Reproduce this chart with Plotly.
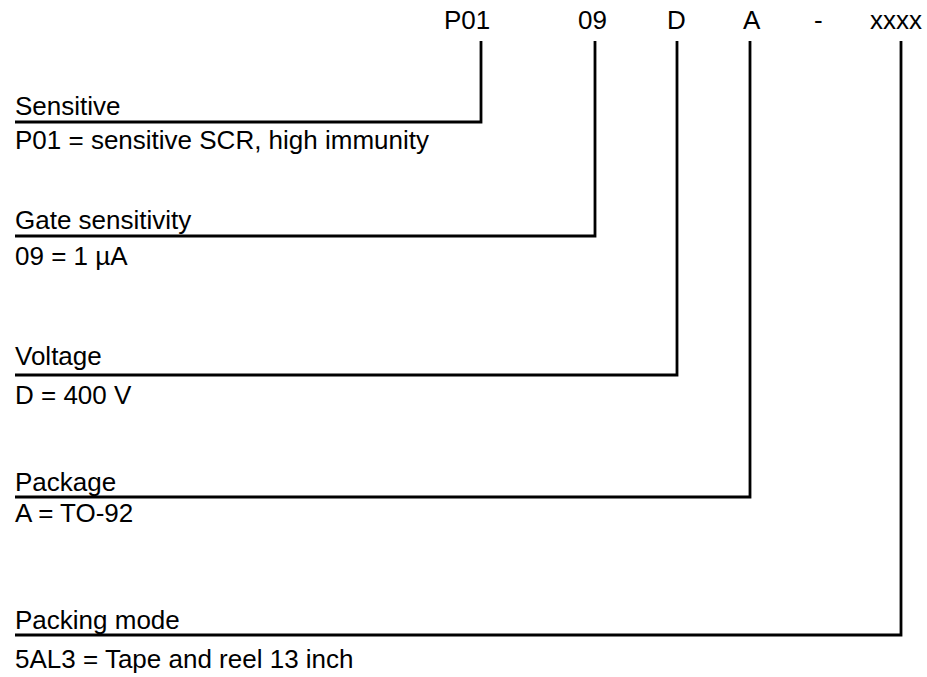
import plotly.graph_objects as go

# ---- content ----
codes = ["P01", "09", "D", "A", "-", "xxxx"]
titles = ["Sensitive", "Gate sensitivity", "Voltage", "Package", "Packing mode"]
descriptions = ["P01 = sensitive SCR, high immunity", "09 = 1 µA", "D = 400 V",
                "A = TO-92", "5AL3 = Tape and reel 13 inch"]

# ---- layout (pixel space) ----
W, H = 927, 677
code_x = [467, 592, 676, 752, 818, 896]
code_y = 20
lead_x = [481, 595, 677, 750, 901]       # vertical leader for each field
line_y = [122, 236, 375, 497, 635]
title_y = [106, 220, 356, 482, 620]
desc_y = [140, 256, 395, 513, 659]
left_x = 15
top_y = 41
FONT = dict(family="Liberation Sans, Arial, sans-serif", size=26, color="black")

fig = go.Figure()
for i in range(len(titles)):
    fig.add_trace(go.Scatter(
        x=[left_x, lead_x[i], lead_x[i]], y=[line_y[i], line_y[i], top_y],
        mode="lines", line=dict(color="black", width=2.8),
        hoverinfo="skip", showlegend=False))

ann = []
for c, x in zip(codes, code_x):
    ann.append(dict(x=x, y=code_y, text=c, showarrow=False, xanchor="center",
                    yanchor="middle", font=FONT))
for t, d, ty, dy in zip(titles, descriptions, title_y, desc_y):
    ann.append(dict(x=left_x, y=ty, text=t, showarrow=False, xanchor="left",
                    yanchor="middle", font=FONT, xshift=-2))
    ann.append(dict(x=left_x, y=dy, text=d, showarrow=False, xanchor="left",
                    yanchor="middle", font=FONT, xshift=-2))

fig.update_layout(
    width=W, height=H, margin=dict(l=0, r=0, t=0, b=0),
    paper_bgcolor="white", plot_bgcolor="white",
    xaxis=dict(range=[0, W], visible=False, fixedrange=True),
    yaxis=dict(range=[H, 0], visible=False, fixedrange=True),
    annotations=ann,
)
fig.write_html("out.html", config={"displayModeBar": False},
               post_script="document.body.style.margin='0';document.body.style.overflow='hidden';")
